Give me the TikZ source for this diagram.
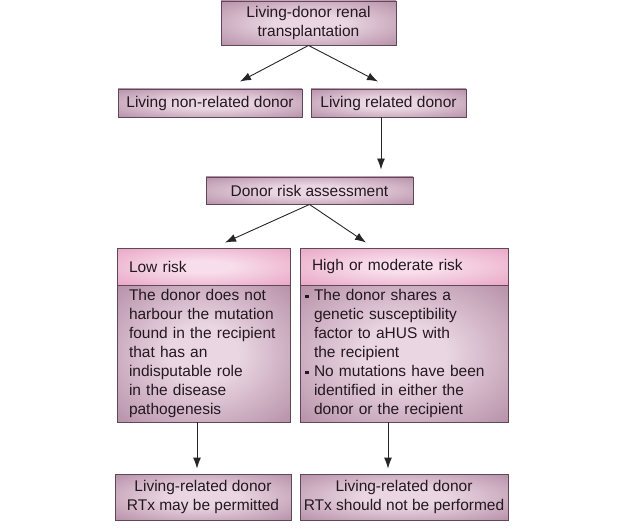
\documentclass[tikz,border=0pt]{standalone}
\usepackage{fontspec}
\setmainfont{Liberation Sans}
\usetikzlibrary{arrows.meta}

\definecolor{boxedge}{RGB}{150,100,132}
\definecolor{boxmid}{RGB}{234,214,226}
\definecolor{headedge}{RGB}{224,134,176}
\definecolor{headmid}{RGB}{248,222,235}
\definecolor{boxline}{RGB}{96,72,90}
\definecolor{txt}{RGB}{36,24,32}

% soft glow in the middle of the boxes
\pgfdeclareradialshading{bodyglow}{\pgfpoint{0bp}{0bp}}{color(0bp)=(boxmid); color(10bp)=(boxmid); color(52bp)=(boxedge); color(75bp)=(boxedge)}
\pgfdeclareradialshading{headglow}{\pgfpoint{0bp}{0bp}}{color(0bp)=(headmid); color(8bp)=(headmid); color(52bp)=(headedge); color(75bp)=(headedge)}

\newcommand{\sqbullet}{\makebox[9pt][l]{\rule[2.5pt]{3.5pt}{3.5pt}}}

\begin{document}
\begin{tikzpicture}[x=1pt,y=-1pt,
    mauve/.style={draw=boxline, line width=0.9pt, shading=bodyglow, text=txt,
        font=\fontsize{15.5}{19}\selectfont, inner sep=0pt, align=center},
    pinkhead/.style={mauve, shading=headglow, align=left},
    link/.style={-{Latex[length=11pt,width=8pt]}, line width=0.9pt, draw=black!85}]

    \useasboundingbox (0,0) rectangle (635,532);

    % first level
    \node[mauve, minimum width=175pt, minimum height=44pt] (living) at (308.5,23)
        {Living-donor renal\\transplantation};
    \node[mauve, minimum width=184pt, minimum height=28pt] (nonrel) at (210,103)
        {Living non-related donor};
    \node[mauve, minimum width=155pt, minimum height=28pt] (related) at (388.5,103)
        {Living related donor};
    \node[mauve, minimum width=207pt, minimum height=27pt] (assess) at (309.5,190.5)
        {Donor risk assessment};

    % risk boxes
    \node[pinkhead, minimum width=173pt, minimum height=37pt, inner xsep=12pt, text width=149pt]
        (lowhead) at (203.5,266.5) {Low risk};
    \node[mauve, minimum width=173pt, minimum height=137pt, inner xsep=12pt, text width=149pt, align=left]
        (lowbody) at (203.5,353.5)
        {The donor does not\\harbour the mutation\\found in the recipient\\that has an\\indisputable role\\in the disease\\pathogenesis};
    \node[pinkhead, minimum width=208pt, minimum height=37pt, inner xsep=12pt, text width=184pt]
        (highhead) at (404,266.5) {High or moderate risk};
    \node[mauve, minimum width=208pt, minimum height=137pt, inner xsep=5pt, text width=198pt, align=left]
        (highbody) at (404,353.5)
        {\sqbullet The donor shares a\\\hspace*{9pt}genetic susceptibility\\\hspace*{9pt}factor to aHUS with\\\hspace*{9pt}the recipient\\
         \sqbullet No mutations have been\\\hspace*{9pt}identified in either the\\\hspace*{9pt}donor or the recipient};

    % outcomes
    \node[mauve, minimum width=176pt, minimum height=46pt] (permit) at (203,497)
        {Living-related donor\\RTx may be permitted};
    \node[mauve, minimum width=208pt, minimum height=46pt] (notdone) at (404,497)
        {Living-related donor\\RTx should not be performed};

    % arrows
    \draw[link] (living.south) -- ([xshift=30pt,yshift=7pt]nonrel.north);
    \draw[link] (living.south) -- ([xshift=-10.5pt,yshift=7pt]related.north);
    \draw[link, shorten >=7pt] ([xshift=-7.5pt]related.south) -- ([xshift=-7.5pt]related.south |- assess.north);
    \draw[link] (assess.south) -- ([xshift=21.5pt,yshift=5pt]lowhead.north);
    \draw[link] (assess.south) -- ([xshift=-38pt,yshift=5pt]highhead.north);
    \draw[link] ([xshift=-6.5pt]lowbody.south) -- ([xshift=-6pt,yshift=5pt]permit.north);
    \draw[link] ([xshift=-16pt]highbody.south) -- ([xshift=-16pt,yshift=5pt]notdone.north);
\end{tikzpicture}
\end{document}
